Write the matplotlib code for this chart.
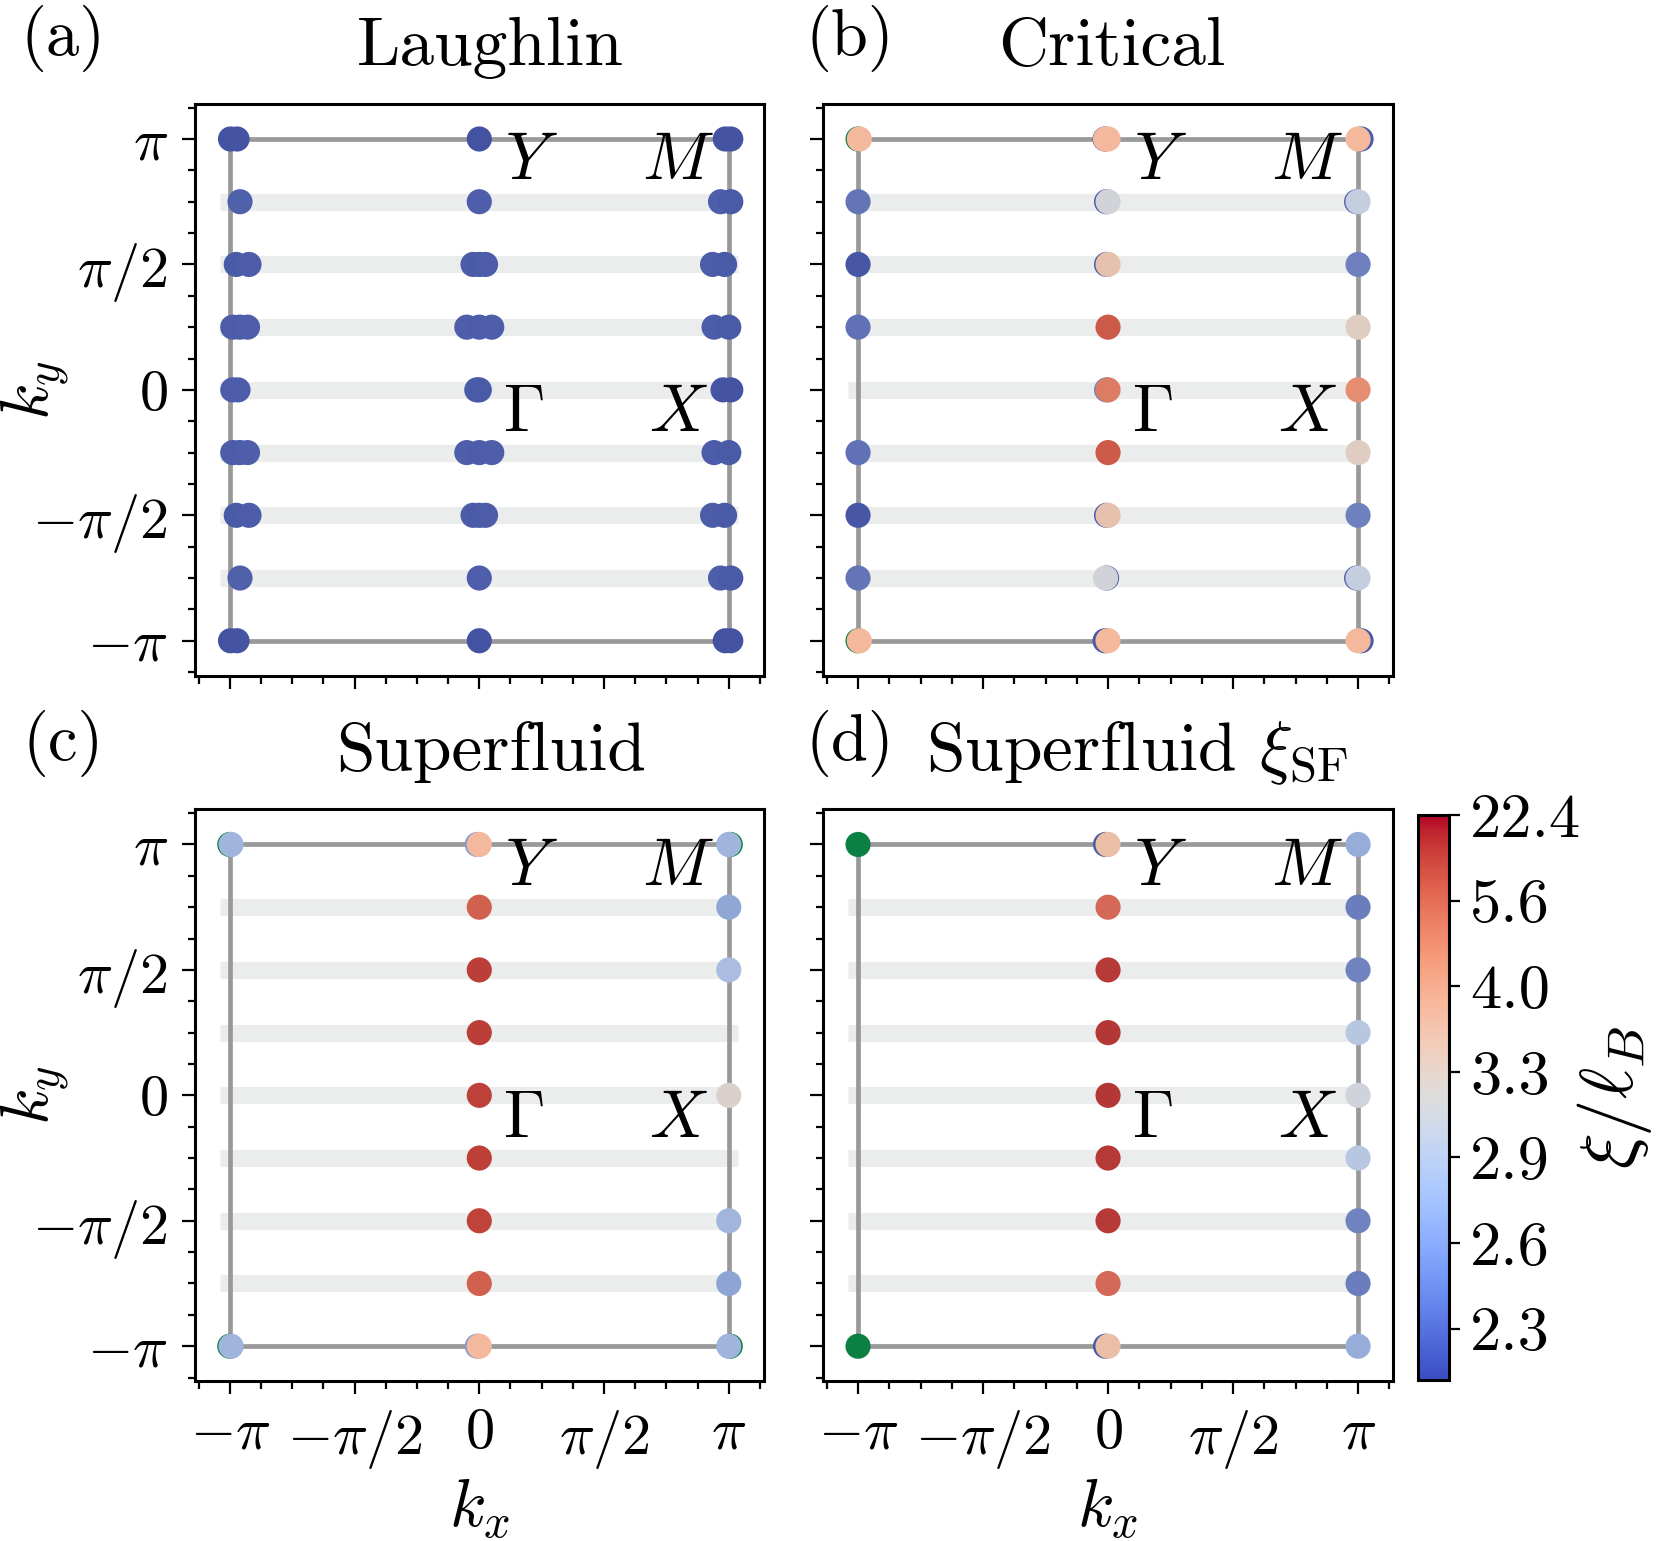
"""Correlation length xi/l_B on the Brillouin-zone path for four states."""

import matplotlib
matplotlib.use("Agg")
import matplotlib.pyplot as plt
from matplotlib.colors import Normalize, LinearSegmentedColormap
from matplotlib.cm import ScalarMappable
from matplotlib.ticker import MultipleLocator
import matplotlib.transforms as mtransforms
import numpy as np

plt.rcParams["font.family"] = ["cmr10", "DejaVu Serif"]
plt.rcParams["mathtext.fontset"] = "cm"
plt.rcParams["axes.unicode_minus"] = False
plt.rcParams["axes.formatter.use_mathtext"] = True

PI = np.pi
NAN = np.nan

# colour is linear in (l_B / xi)^2
V_MIN, V_MAX = 0.002, 0.2
CBAR_V = [0.002, 0.032, 0.062, 0.092, 0.122, 0.152, 0.182]

BAND_KY = [0.75, 0.5, 0.25, 0.0, -0.25, -0.5, -0.75]   # in units of pi
TICK_VALS = [-PI, -PI / 2, 0, PI / 2, PI]
TICK_LABELS = [r"$-\pi$", r"$-\pi/2$", r"$0$", r"$\pi/2$", r"$\pi$"]

# (a) Laughlin: kx/pi, ky/pi, xi/l_B
A_KX = [-0.997, -0.971, 0.0, 0.986, 1.008,
        -0.959, 0.0, 0.967, 1.008,
        -0.974, -0.923, -0.025, 0.0, 0.025, 0.935, 0.983,
        -0.988, -0.960, -0.929, -0.05, 0.0, 0.05, 0.941, 1.0,
        -0.988, -0.967, -0.01, 0.0, 0.977, 1.008,
        -0.988, -0.960, -0.929, -0.05, 0.0, 0.05, 0.941, 1.0,
        -0.974, -0.923, -0.025, 0.0, 0.025, 0.935, 0.983,
        -0.959, 0.0, 0.967, 1.008,
        -0.997, -0.971, 0.0, 0.986, 1.008]
A_KY = [1, 1, 1, 1, 1,
        0.75, 0.75, 0.75, 0.75,
        0.5, 0.5, 0.5, 0.5, 0.5, 0.5, 0.5,
        0.25, 0.25, 0.25, 0.25, 0.25, 0.25, 0.25, 0.25,
        0, 0, 0, 0, 0, 0,
        -0.25, -0.25, -0.25, -0.25, -0.25, -0.25, -0.25, -0.25,
        -0.5, -0.5, -0.5, -0.5, -0.5, -0.5, -0.5,
        -0.75, -0.75, -0.75, -0.75,
        -1, -1, -1, -1, -1]
A_XI = [2.26, 2.27, 2.26, 2.26, 2.27,
        2.33, 2.32, 2.32, 2.30,
        2.30, 2.31, 2.31, 2.30, 2.31, 2.31, 2.30,
        2.31, 2.31, 2.32, 2.32, 2.31, 2.32, 2.31, 2.30,
        2.31, 2.31, 2.31, 2.30, 2.28, 2.27,
        2.31, 2.31, 2.32, 2.32, 2.31, 2.32, 2.31, 2.30,
        2.30, 2.31, 2.31, 2.30, 2.31, 2.31, 2.30,
        2.33, 2.32, 2.32, 2.30,
        2.26, 2.27, 2.26, 2.26, 2.27]

# (b) Critical
B_KX = [-1.0, -1.0, -0.012, -0.012, -0.006, -0.006, -0.006, -0.006, -0.006,
        1.012, 1.012, 0.994, 0.994,
        -0.995, -1.0, -1.0, -1.0, -1.0, -1.0, -1.0, -0.995,
        -0.01, 0.0, 0.0, 0.0, 0.0, 0.0, 0.0, 0.0, -0.01, 0.0,
        1.0, 1.0, 1.0, 1.0, 1.0, 1.0, 1.0, 1.0, 1.0]
B_KY = [1, -1, 1, -1, 0.75, -0.75, 0.5, -0.5, 0,
        1, -1, 0.75, -0.75,
        1, 0.75, 0.5, 0.25, -0.25, -0.5, -0.75, -1,
        1, 1, 0.75, 0.5, 0.25, 0, -0.25, -0.5, -0.75, -1,
        1, 0.75, 0.5, 0.25, 0, -0.25, -0.5, -0.75, -1]
B_XI = [NAN, NAN, 2.30, 2.30, 2.30, 2.30, 2.30, 2.30, 2.50,
        2.30, 2.30, 2.35, 2.35,
        3.90, 2.42, 2.29, 2.40, 2.40, 2.29, 2.42, 3.90,
        3.90, 3.90, 3.09, 3.51, 6.20, 4.90, 6.20, 3.51, 3.09, 3.90,
        3.90, 3.00, 2.47, 3.28, 4.49, 3.28, 2.47, 3.00, 3.90]

# (c) Superfluid
C_KX = [-1.0, -1.0, 1.006, 1.006, -0.008, -0.008,
        -0.995, -0.995,
        0.0, 0.0, 0.0, 0.0, 0.0, 0.0, 0.0, 0.0, 0.0,
        1.0, 1.0, 1.0, 1.0, 1.0, 1.0, 1.0]
C_KY = [1, -1, 1, -1, 1, -1,
        1, -1,
        1, 0.75, 0.5, 0.25, 0, -0.25, -0.5, -0.75, -1,
        1, 0.75, 0.5, 0, -0.5, -0.75, -1]
C_XI = [NAN, NAN, NAN, NAN, 2.60, 2.60,
        2.77, 2.77,
        3.90, 5.80, 9.20, 9.20, 8.60, 9.00, 8.40, 5.80, 3.90,
        2.77, 2.67, 2.83, 3.20, 2.78, 2.66, 2.77]

# (d) Superfluid xi_SF
D_KX = [-0.01, -0.01,
        -1.0, -1.0,
        0.0, 0.0, 0.0, 0.0, 0.0, 0.0, 0.0, 0.0, 0.0,
        1.0, 1.0, 1.0, 1.0, 1.0, 1.0, 1.0, 1.0, 1.0]
D_KY = [1, -1,
        1, -1,
        1, 0.75, 0.5, 0.25, 0, -0.25, -0.5, -0.75, -1,
        1, 0.75, 0.5, 0.25, 0, -0.25, -0.5, -0.75, -1]
D_XI = [2.30, 2.30,
        NAN, NAN,
        3.64, 5.45, 11.2, 12.9, 12.9, 12.0, 11.2, 5.45, 3.64,
        2.72, 2.45, 2.48, 2.92, 3.06, 2.92, 2.48, 2.45, 2.72]

PANELS = [
    ("(a)", "Laughlin", A_KX, A_KY, A_XI),
    ("(b)", "Critical", B_KX, B_KY, B_XI),
    ("(c)", "Superfluid", C_KX, C_KY, C_XI),
    ("(d)", r"Superfluid $\xi_{\rm SF}$", D_KX, D_KY, D_XI),
]

# muted coolwarm used for the markers (blue -> red)
POINT_STOPS = [
    (0.00, "#3f4f9e"), (0.05, "#4858a6"), (0.15, "#6577b8"), (0.30, "#8fa6d6"),
    (0.40, "#b0c3e2"), (0.47, "#cfd4dc"), (0.52, "#dcd1cb"), (0.60, "#e6c2ae"),
    (0.68, "#f4b89c"), (0.76, "#e58e72"), (0.84, "#d46a57"), (0.90, "#c6533f"),
    (0.95, "#bd3f38"), (1.00, "#ad3433"),
]

AX_POS = [
    [0.1173, 0.5614, 0.3425, 0.3712],
    [0.4955, 0.5614, 0.3432, 0.3712],
    [0.1173, 0.1036, 0.3425, 0.3712],
    [0.4955, 0.1036, 0.3432, 0.3712],
]
TITLE_X = [0.520, 0.507, 0.521, 0.551]
LETTER_X = [0.0125, 0.4847, 0.0135, 0.4847]
LETTER_Y = [0.9643, 0.9643, 0.5068, 0.5068]
TITLE_Y = [0.9578, 0.9578, 0.5003, 0.5003]


def main():
    point_cmap = LinearSegmentedColormap.from_list("muted_cw", POINT_STOPS).reversed()
    point_cmap = point_cmap.with_extremes(bad="#0b8043")
    norm = Normalize(V_MIN, V_MAX)
    fig = plt.figure(figsize=(8.305, 7.705), dpi=200)

    for i, (letter, title, kx, ky, xi) in enumerate(PANELS):
        ax = fig.add_axes(AX_POS[i])
        lim = PI + 0.44
        for k in BAND_KY:
            ax.plot([-PI - 0.12, PI + 0.12], [k * PI, k * PI], color="#ebedec",
                    lw=6.2, solid_capstyle="butt", zorder=1)
        ax.plot([-PI, PI, PI, -PI, -PI], [PI, PI, -PI, -PI, PI], color="#999999",
                lw=1.7, zorder=2)
        v = 1.0 / np.asarray(xi) ** 2
        ax.scatter(np.asarray(kx) * PI, np.asarray(ky) * PI, c=v, cmap=point_cmap,
                   norm=norm, s=82, linewidths=0, plotnonfinite=True, zorder=3)

        ax.text(0.66, 2.85, r"$Y$", fontsize=24, ha="center", va="center")
        ax.text(2.50, 2.85, r"$M$", fontsize=24, ha="center", va="center")
        ax.text(0.56, -0.31, r"$\Gamma$", fontsize=24, ha="center", va="center")
        ax.text(2.51, -0.31, r"$X$", fontsize=24, ha="center", va="center")

        ax.set_xlim(-lim, lim)
        ax.set_ylim(-lim, lim)
        ax.set_xticks(TICK_VALS)
        ax.set_yticks(TICK_VALS)
        ax.xaxis.set_minor_locator(MultipleLocator(PI / 8))
        ax.yaxis.set_minor_locator(MultipleLocator(PI / 8))
        ax.tick_params(which="major", direction="out", length=4.7, width=0.8,
                       labelsize=21, pad=5)
        ax.tick_params(which="minor", direction="out", length=2.7, width=0.8)
        for sp in ax.spines.values():
            sp.set_linewidth(1.1)
        if i in (0, 2):
            ax.set_yticklabels(TICK_LABELS)
            yc = AX_POS[i][1] + AX_POS[i][3] / 2
            fig.text(0.021, yc, r"$k_y$", fontsize=24, rotation=90,
                     ha="center", va="center")
        else:
            ax.set_yticklabels([])
        if i in (2, 3):
            ax.set_xticklabels(TICK_LABELS)
            ax.set_xlabel(r"$k_x$", fontsize=24, labelpad=2)
        else:
            ax.set_xticklabels([])

        fig.text(LETTER_X[i], LETTER_Y[i], letter, fontsize=24, va="baseline")
        trans = mtransforms.blended_transform_factory(ax.transAxes, fig.transFigure)
        ax.text(TITLE_X[i], TITLE_Y[i], title, transform=trans, fontsize=25,
                ha="center", va="baseline")

    cax = fig.add_axes([0.8537, 0.1045, 0.0187, 0.3666])
    sm = ScalarMappable(norm=norm, cmap=plt.get_cmap("coolwarm_r"))
    cb = fig.colorbar(sm, cax=cax)
    cax.invert_yaxis()
    cb.set_ticks(CBAR_V)
    cb.set_ticklabels([f"{1 / np.sqrt(v):.1f}" for v in CBAR_V])
    cax.tick_params(labelsize=22.5, length=4.0, width=0.8, pad=3.5)
    cb.outline.set_linewidth(1.1)
    yc = 0.1045 + 0.3666 / 2
    fig.text(0.972, yc, r"$\xi/\ell_B$", fontsize=27, rotation=90,
             ha="center", va="center")

    fig.savefig("out.png", dpi=200)


if __name__ == "__main__":
    main()
